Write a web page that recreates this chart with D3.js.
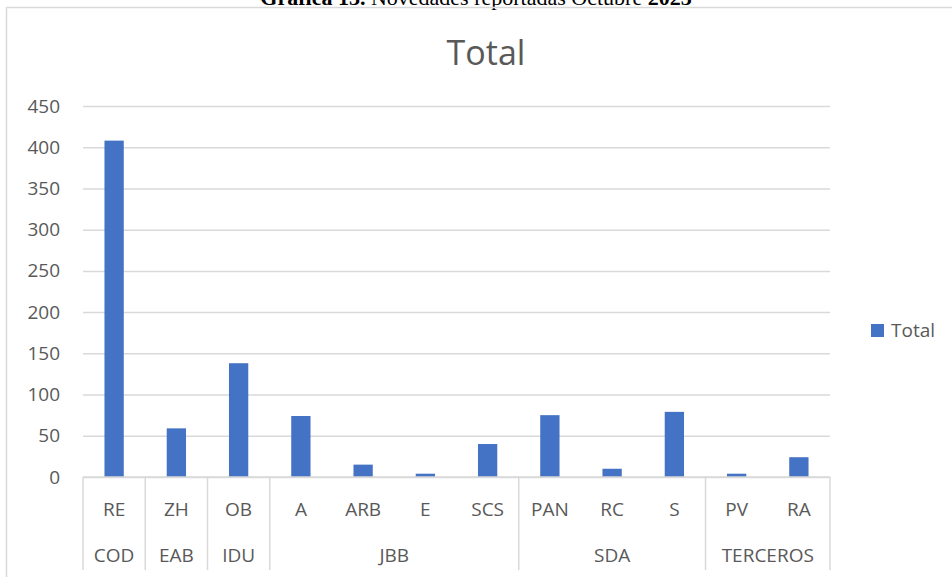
<!DOCTYPE html>
<html>
<head>
<meta charset="utf-8">
<script src="https://cdn.jsdelivr.net/npm/d3@7"></script>
<style>
  html, body { margin: 0; padding: 0; background: #fff; }
  svg { display: block; }
  .tick text { font-family: "Open Sans", sans-serif; }
</style>
</head>
<body>
<div id="chart"></div>
<script>
// values
const categories = ["RE", "ZH", "OB", "A", "ARB", "E", "SCS", "PAN", "RC", "S", "PV", "RA"]
const groups = ["COD", "EAB", "IDU", "JBB", "JBB", "JBB", "JBB", "SDA", "SDA", "SDA", "TERCEROS", "TERCEROS"]
const totals = [408, 59, 138, 74, 15, 4, 40, 75, 10, 79, 4, 24]
const yTicks = [0, 50, 100, 150, 200, 250, 300, 350, 400, 450]

const W = 952, H = 577
const plot = { left: 83, right: 830, top: 106, bottom: 477 }
const textColor = "#595959"
const gridColor = "#d9d9d9"
const barColor = "#4472c4"

const svg = d3.select("#chart")
	.append("svg")
	.attr("width", W)
	.attr("height", H)

// page caption above the chart frame (cut off at the top)
const cap = svg.append("text")
	.attr("x", W / 2)
	.attr("y", 5)
	.attr("text-anchor", "middle")
	.style("font-family", "'Liberation Serif', 'Times New Roman', serif")
	.style("font-size", "22px")
	.style("fill", "#000")
cap.append("tspan").style("font-weight", "bold").text("Gráfica 13. ")
cap.append("tspan").text("Novedades reportadas Octubre ")
cap.append("tspan").style("font-weight", "bold").text("2023")

// chart frame
svg.append("rect")
	.attr("x", 6.5)
	.attr("y", 7.5)
	.attr("width", W + 10)
	.attr("height", H + 10)
	.attr("fill", "none")
	.attr("stroke", gridColor)
	.attr("stroke-width", 1.5)

// chart title
svg.append("text")
	.attr("x", 486)
	.attr("y", 65)
	.attr("text-anchor", "middle")
	.style("font-family", "'Open Sans', sans-serif")
	.style("font-size", "34px")
	.style("fill", textColor)
	.text("Total")

const x = d3.scaleBand()
	.domain(d3.range(categories.length))
	.range([plot.left, plot.right])
	.paddingInner(0.69)
	.paddingOuter(0.345)

const xBand = d3.scaleBand()
	.domain(d3.range(categories.length))
	.range([plot.left, plot.right])

const y = d3.scaleLinear()
	.domain([0, 450])
	.range([plot.bottom, plot.top])

// gridlines
svg.append("g")
	.attr("class", "grid")
	.attr("transform", `translate(${plot.left},0)`)
	.call(d3.axisLeft(y).tickValues(yTicks).tickSize(-(plot.right - plot.left)).tickFormat(""))
	.call(g => g.select(".domain").remove())
	.call(g => g.selectAll("line").attr("stroke", gridColor).attr("stroke-width", 1.5))

// y axis labels
svg.append("g")
	.attr("class", "y-axis")
	.attr("transform", `translate(${plot.left},0)`)
	.call(d3.axisLeft(y).tickValues(yTicks).tickSize(0).tickPadding(23))
	.call(g => g.select(".domain").remove())
	.call(g => g.selectAll("text")
		.style("font-size", "19px")
		.attr("fill", textColor))

// bars
svg.append("g")
	.selectAll("rect")
	.data(totals)
	.enter()
	.append("rect")
	.attr("x", (d, i) => x(i))
	.attr("y", d => y(d))
	.attr("width", x.bandwidth())
	.attr("height", d => y(0) - y(d))
	.attr("fill", barColor)

// category axis: inner labels
const xa = svg.append("g")
	.attr("class", "x-axis")
	.attr("transform", `translate(0,${plot.bottom})`)
	.call(d3.axisBottom(xBand).tickSize(0).tickPadding(0).tickFormat(i => categories[i]))
	.call(g => g.select(".domain").remove())
xa.selectAll("text")
	.attr("y", 39)
	.attr("dy", 0)
	.style("font-size", "19px")
	.attr("fill", textColor)

// axis baseline
svg.append("line")
	.attr("x1", plot.left)
	.attr("x2", plot.right)
	.attr("y1", y(0))
	.attr("y2", y(0))
	.attr("stroke", gridColor)
	.attr("stroke-width", 1.5)

// group spans
const spans = []
groups.forEach((g, i) => {
	const last = spans[spans.length - 1]
	if (last && last.name === g) last.end = i
	else spans.push({ name: g, start: i, end: i })
})

const boundaries = [xBand(0)].concat(spans.map(s => xBand(s.end) + xBand.bandwidth()))
svg.append("g")
	.selectAll("line")
	.data(boundaries)
	.enter()
	.append("line")
	.attr("x1", d => d)
	.attr("x2", d => d)
	.attr("y1", plot.bottom)
	.attr("y2", 570)
	.attr("stroke", gridColor)
	.attr("stroke-width", 1.5)

svg.append("g")
	.selectAll("text")
	.data(spans)
	.enter()
	.append("text")
	.attr("x", s => (xBand(s.start) + xBand(s.end) + xBand.bandwidth()) / 2)
	.attr("y", 562)
	.attr("text-anchor", "middle")
	.style("font-family", "'Open Sans', sans-serif")
	.style("font-size", "19px")
	.style("fill", textColor)
	.text(s => s.name)

// legend
const lg = svg.append("g").attr("transform", "translate(871,324)")
lg.append("rect")
	.attr("width", 13)
	.attr("height", 13)
	.attr("fill", barColor)
lg.append("text")
	.attr("x", 20)
	.attr("y", 13)
	.style("font-family", "'Open Sans', sans-serif")
	.style("font-size", "19px")
	.style("fill", textColor)
	.text("Total")
</script>
</body>
</html>
